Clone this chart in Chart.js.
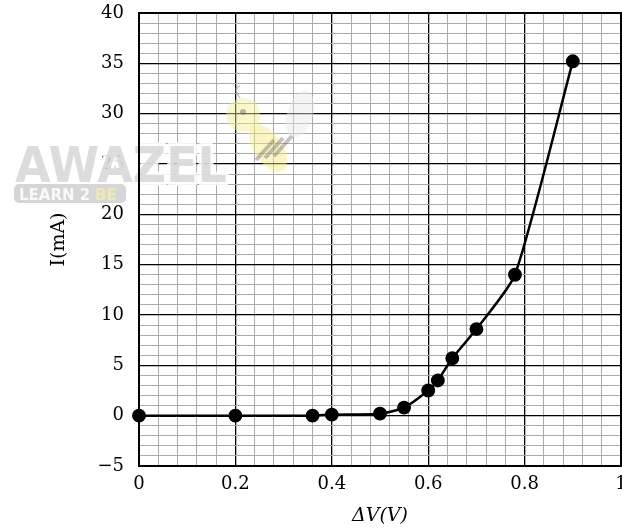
<!DOCTYPE html>
<html><head><meta charset="utf-8">
<script src="https://cdn.jsdelivr.net/npm/chart.js@4.4.1/dist/chart.umd.min.js"></script>
<style>html,body{margin:0;padding:0;background:#fff}#wrap{width:622px;height:532px}</style>
</head><body><div id="wrap"><canvas id="c" width="622" height="532"></canvas></div>
<script>
// Data
const voltage = [0, 0.2, 0.36, 0.4, 0.5, 0.55, 0.6, 0.62, 0.65, 0.7, 0.78, 0.9];
const current = [0, 0, 0, 0.1, 0.2, 0.8, 2.5, 3.5, 5.7, 8.6, 14, 35.2];
const xTickLabels = ['0', '0.2', '0.4', '0.6', '0.8', '1'];
const yTickLabels = ['\u22125', '0', '5', '10', '15', '20', '25', '30', '35', '40'];
const xTitle = '\u0394V(V)';
const yTitle = 'I(mA)';

const points = voltage.map((v, i) => ({x: v, y: current[i]}));

function near(a, b) { return Math.abs(a - b) < 1e-6; }
function xMajorIndex(v) { const k = Math.round(v / 0.2); return near(v / 0.2, k) ? k : -1; }
function yMajorIndex(v) { const k = Math.round((v + 5) / 5); return near((v + 5) / 5, k) ? k : -1; }

const watermark = {
  id: 'watermark',
  beforeDatasetsDraw(chart) {
    const ctx = chart.ctx;
    ctx.save();
    // bee
    ctx.globalAlpha = 0.45;
    ctx.fillStyle = '#e6e6e6';
    ctx.beginPath(); ctx.ellipse(300, 114, 13, 24, 0.3, 0, Math.PI * 2); ctx.fill();
    ctx.fillStyle = '#f2ec7a';
    ctx.beginPath(); ctx.ellipse(268, 148, 14, 27, -0.6, 0, Math.PI * 2); ctx.fill();
    ctx.strokeStyle = '#777'; ctx.lineWidth = 4;
    for (let i = 0; i < 3; i++) {
      ctx.beginPath();
      ctx.moveTo(256 + i * 9, 160 - i * 2);
      ctx.lineTo(274 + i * 9, 140 - i * 2);
      ctx.stroke();
    }
    ctx.fillStyle = '#f4ee8c';
    ctx.beginPath(); ctx.arc(243, 115, 17, 0, Math.PI * 2); ctx.fill();
    ctx.fillStyle = '#666';
    ctx.beginPath(); ctx.arc(243, 112, 3, 0, Math.PI * 2); ctx.fill();
    ctx.strokeStyle = '#999'; ctx.lineWidth = 2;
    ctx.beginPath(); ctx.moveTo(240, 98); ctx.quadraticCurveTo(232, 88, 240, 86); ctx.stroke();
    // text
    ctx.globalAlpha = 0.85;
    ctx.font = 'bold 50px "DejaVu Sans"';
    ctx.textBaseline = 'alphabetic';
    ctx.lineJoin = 'round';
    ctx.translate(15, 182);
    ctx.scale(0.92, 1);
    ctx.lineWidth = 7; ctx.strokeStyle = '#ffffff';
    ctx.strokeText('AWAZEL', 0, 0);
    ctx.fillStyle = '#d6d6d6';
    ctx.fillText('AWAZEL', 0, 0);
    ctx.setTransform(1, 0, 0, 1, 0, 0);
    ctx.fillStyle = '#cfcfcf';
    ctx.beginPath();
    if (ctx.roundRect) ctx.roundRect(14, 184, 112, 19, 5); else ctx.rect(14, 184, 112, 19);
    ctx.fill();
    ctx.font = 'bold 15px "DejaVu Sans"';
    ctx.fillStyle = '#ffffff';
    ctx.fillText('LEARN 2', 19, 200);
    ctx.fillStyle = '#f3efb0';
    ctx.fillText('BE', 95, 200);
    ctx.restore();
  }
};

const frame = {
  id: 'frame',
  beforeDatasetsDraw(chart) {
    const {left, right, top, bottom} = chart.chartArea;
    const ctx = chart.ctx;
    ctx.save();
    ctx.strokeStyle = '#000';
    ctx.lineWidth = 2;
    ctx.strokeRect(left, top, right - left, bottom - top);
    ctx.restore();
  }
};

const tickFont = {family: '"DejaVu Serif", serif', size: 18};
const titleFont = {family: '"DejaVu Serif", serif', size: 19, style: 'italic'};

new Chart(document.getElementById('c'), {
  type: 'scatter',
  data: {
    datasets: [{
      data: points,
      showLine: true,
      borderColor: '#000',
      backgroundColor: '#000',
      borderWidth: 2.5,
      pointRadius: 5.7,
      pointHoverRadius: 5.7,
      tension: 0.2,
      clip: false
    }]
  },
  options: {
    responsive: false,
    animation: false,
    devicePixelRatio: 1,
    layout: {autoPadding: false, padding: {left: 0, right: 1, top: 13, bottom: 0}},
    plugins: {legend: {display: false}, tooltip: {enabled: false}},
    scales: {
      x: {
        type: 'linear', min: 0, max: 1,
        afterFit(s) { s.height = 66; s.paddingLeft = 0; s.paddingRight = 0; },
        border: {display: true, color: '#000', width: 2},
        grid: {
          drawTicks: false,
          color: c => xMajorIndex(c.tick.value) >= 0 ? '#000' : '#ababab',
          lineWidth: c => xMajorIndex(c.tick.value) >= 0 ? 1.3 : 1
        },
        ticks: {
          stepSize: 0.04, maxTicksLimit: 100, autoSkip: false, maxRotation: 0,
          padding: 8, color: '#000', font: tickFont,
          callback: v => { const k = xMajorIndex(v); return k >= 0 ? xTickLabels[k] : ''; }
        },
        title: {display: true, text: xTitle, color: '#000', font: titleFont, padding: {top: 0, bottom: 5}}
      },
      y: {
        type: 'linear', min: -5, max: 40,
        afterFit(s) { s.width = 139; s.paddingTop = 0; s.paddingBottom = 0; },
        border: {display: true, color: '#000', width: 2},
        grid: {
          drawTicks: false,
          color: c => yMajorIndex(c.tick.value) >= 0 ? '#000' : '#ababab',
          lineWidth: c => yMajorIndex(c.tick.value) >= 0 ? 1.3 : 1
        },
        ticks: {
          stepSize: 1, maxTicksLimit: 100, autoSkip: false,
          padding: 15, color: '#000', font: tickFont,
          callback: v => { const k = yMajorIndex(v); return k >= 0 ? yTickLabels[k] : ''; }
        },
        title: {display: true, text: yTitle, color: '#000', font: {family: '"DejaVu Serif", serif', size: 19}, padding: {top: 48, bottom: 0}}
      }
    }
  },
  plugins: [watermark, frame]
});
</script></body></html>
